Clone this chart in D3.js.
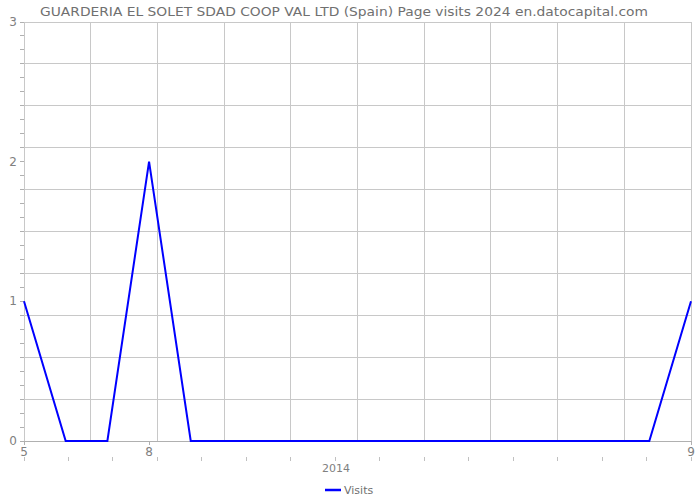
<!DOCTYPE html>
<html><head><meta charset="utf-8">
<script src="https://cdn.jsdelivr.net/npm/d3@7"></script>
<style>body{margin:0;background:#fff}svg{display:block}text{font-family:"DejaVu Sans",sans-serif}</style>
</head><body><svg id="c" width="700" height="500"></svg>
<script>
const title = "GUARDERIA EL SOLET SDAD COOP VAL LTD (Spain) Page visits 2024 en.datocapital.com";
const points = d3.range(17);
const visits = [1,0,0,2,0,0,0,0,0,0,0,0,0,0,0,0,1];
const xTickLabels = [{i:0,label:"5"},{i:3,label:"8"},{i:16,label:"9"}];
const yTicks = [0,1,2,3];
const yearLabel = "2014";
const seriesName = "Visits";

const svg = d3.select("#c");
const L=24, R=691, T=22, B=441;
const x = d3.scaleLinear().domain([0,16]).range([L,R]);
const y = d3.scaleLinear().domain([0,3]).range([B,T]);
const gridX = d3.scaleLinear().domain([0,10]).range([L,R]);
const minorX = d3.scaleLinear().domain([0,15]).range([L,R]);

// grid
svg.append("g").selectAll("line").data(d3.range(11)).join("line")
  .attr("x1",L).attr("x2",R).attr("y1",d=>y(d*0.3)).attr("y2",d=>y(d*0.3))
  .attr("stroke","#c8c8c8").attr("stroke-width",1).attr("shape-rendering","crispEdges");
svg.append("g").selectAll("line").data(d3.range(11)).join("line")
  .attr("x1",d=>gridX(d)).attr("x2",d=>gridX(d)).attr("y1",T).attr("y2",B)
  .attr("stroke","#c8c8c8").attr("stroke-width",1).attr("shape-rendering","crispEdges");

// y minor ticks
svg.append("g").selectAll("line").data(d3.range(31)).join("line")
  .attr("x1",L-4).attr("x2",L).attr("y1",d=>y(d/10)).attr("y2",d=>y(d/10))
  .attr("stroke","#b0b0b0").attr("shape-rendering","crispEdges");
// y labels
svg.append("g").selectAll("text").data(yTicks).join("text")
  .attr("x",17).attr("y",d=>y(d)+4).attr("text-anchor","end")
  .attr("font-size",12).attr("fill","#808080").text(d=>d);

// x axis line
svg.append("line").attr("x1",L).attr("x2",R).attr("y1",B).attr("y2",B)
  .attr("stroke","#b0b0b0").attr("shape-rendering","crispEdges");
svg.append("g").selectAll("line").data(xTickLabels).join("line")
  .attr("x1",d=>x(d.i)).attr("x2",d=>x(d.i)).attr("y1",B).attr("y2",B+4)
  .attr("stroke","#b0b0b0").attr("shape-rendering","crispEdges");
svg.append("g").selectAll("text").data(xTickLabels).join("text")
  .attr("x",d=>x(d.i)).attr("y",B+15).attr("text-anchor","middle")
  .attr("font-size",12).attr("fill","#808080").text(d=>d.label);

// secondary minor ticks
svg.append("g").selectAll("line").data(d3.range(16)).join("line")
  .attr("x1",d=>minorX(d)).attr("x2",d=>minorX(d)).attr("y1",457).attr("y2",461)
  .attr("stroke","#c0c0c0").attr("shape-rendering","crispEdges");
svg.append("text").attr("x",336).attr("y",472).attr("text-anchor","middle")
  .attr("font-size",11).attr("fill","#808080").text(yearLabel);

// line
svg.append("path").datum(points)
  .attr("d", d3.line().x(i=>x(i)).y(i=>y(visits[i])))
  .attr("fill","none").attr("stroke","#0000ff").attr("stroke-width",2);

// title
svg.append("text").attr("x",344).attr("y",16).attr("text-anchor","middle")
  .attr("font-size",13).attr("fill","#707070")
  .attr("textLength",608).attr("lengthAdjust","spacingAndGlyphs").text(title);

// legend
svg.append("line").attr("x1",325).attr("x2",341).attr("y1",490).attr("y2",490)
  .attr("stroke","#0000ff").attr("stroke-width",2.5);
svg.append("text").attr("x",344).attr("y",494).attr("font-size",11).attr("fill","#707070").text(seriesName);
</script></body></html>
